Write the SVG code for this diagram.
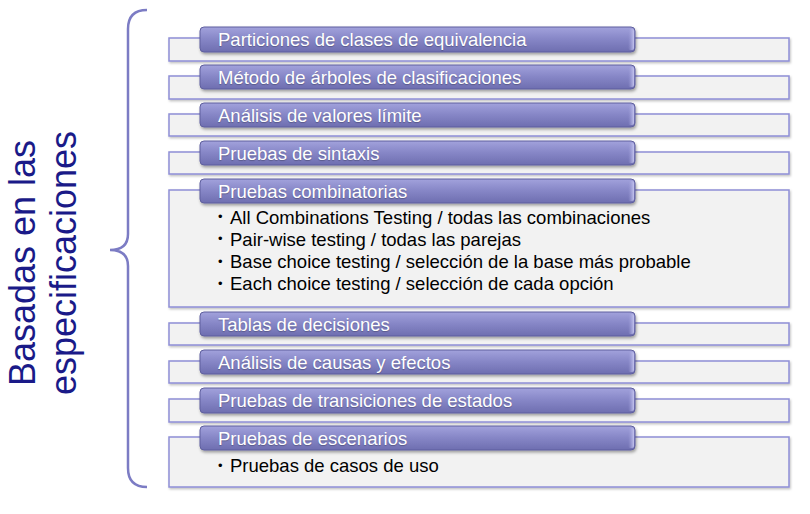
<svg xmlns="http://www.w3.org/2000/svg" width="810" height="514" viewBox="0 0 810 514">
<defs>
<linearGradient id="barG" x1="0" y1="0" x2="0" y2="1">
<stop offset="0" stop-color="#a2a2dc"/>
<stop offset="0.45" stop-color="#8888c8"/>
<stop offset="1" stop-color="#6e6eb0"/>
</linearGradient>
<linearGradient id="capG" x1="0" y1="0" x2="1" y2="0">
<stop offset="0" stop-color="#9c9cd8" stop-opacity="0"/>
<stop offset="1" stop-color="#c4c4ee"/>
</linearGradient>
<filter id="sh" x="-5%" y="-30%" width="110%" height="170%">
<feDropShadow dx="1" dy="2" stdDeviation="1.5" flood-color="#000" flood-opacity="0.35"/>
</filter>
<filter id="sh2" x="-5%" y="-10%" width="110%" height="130%">
<feDropShadow dx="1" dy="1.5" stdDeviation="1.2" flood-color="#000" flood-opacity="0.25"/>
</filter>
</defs>
<style>
.bg{fill:#f2f2f2;stroke:#8e8ed6;stroke-width:1.5;filter:url(#sh2)}
.bar{fill:url(#barG);stroke:#5f5f9e;stroke-width:1;filter:url(#sh)}
.cap{fill:url(#capG)}
.h{font-family:"Liberation Sans",Arial,sans-serif;font-size:18.5px;fill:#ffffff;text-shadow:0 1px 1px rgba(0,0,0,0.25)}
.b{font-family:"Liberation Sans",Arial,sans-serif;font-size:18.5px;fill:#000000}
.d{font-family:"Liberation Sans",Arial,sans-serif;font-size:13px;fill:#000000}
.t{font-family:"Liberation Sans",Arial,sans-serif;font-size:36px;fill:#1a1a88}
</style>
<rect width="810" height="514" fill="#ffffff"/>
<g id="connectors">
<path d="M147,10 Q128,10 128,29 L128,234 Q128,250 110,250 Q128,250 128,266 L128,468 Q128,487 147,487" fill="none" stroke="#7c7cc4" stroke-width="2.5"/>
</g>
<g id="label">
<text class="t" transform="translate(35,263) rotate(-90)" text-anchor="middle">Basadas en las</text>
<text class="t" transform="translate(76,263) rotate(-90)" text-anchor="middle">especificaciones</text>
</g>
<g id="n1">
<rect class="bg" x="169" y="38" width="620" height="23"/>
<rect class="bar" x="200" y="27" width="435" height="25" rx="4"/>
<rect class="cap" x="628" y="29" width="6" height="21" rx="2"/>
<text class="h" x="218" y="46">Particiones de clases de equivalencia</text>
</g>
<g id="n2">
<rect class="bg" x="169" y="76" width="620" height="23"/>
<rect class="bar" x="200" y="65" width="435" height="24" rx="4"/>
<rect class="cap" x="628" y="67" width="6" height="20" rx="2"/>
<text class="h" x="218" y="84">Método de árboles de clasificaciones</text>
</g>
<g id="n3">
<rect class="bg" x="169" y="114" width="620" height="22"/>
<rect class="bar" x="200" y="103" width="435" height="24" rx="4"/>
<rect class="cap" x="628" y="105" width="6" height="20" rx="2"/>
<text class="h" x="218" y="122">Análisis de valores límite</text>
</g>
<g id="n4">
<rect class="bg" x="169" y="152" width="620" height="22"/>
<rect class="bar" x="200" y="141" width="435" height="24" rx="4"/>
<rect class="cap" x="628" y="143" width="6" height="20" rx="2"/>
<text class="h" x="218" y="160">Pruebas de sintaxis</text>
</g>
<g id="n5">
<rect class="bg" x="169" y="190" width="620" height="117"/>
<rect class="bar" x="200" y="179" width="435" height="24" rx="4"/>
<rect class="cap" x="628" y="181" width="6" height="20" rx="2"/>
<text class="h" x="218" y="198">Pruebas combinatorias</text>
<text class="d" x="218" y="221">•</text>
<text class="b" x="230" y="223.5">All Combinations Testing / todas las combinaciones</text>
<text class="d" x="218" y="243.3">•</text>
<text class="b" x="230" y="245.8">Pair-wise testing / todas las parejas</text>
<text class="d" x="218" y="265.6">•</text>
<text class="b" x="230" y="268.1">Base choice testing / selección de la base más probable</text>
<text class="d" x="218" y="287.9">•</text>
<text class="b" x="230" y="290.4">Each choice testing / selección de cada opción</text>
</g>
<g id="n6">
<rect class="bg" x="169" y="323" width="620" height="22"/>
<rect class="bar" x="200" y="312" width="435" height="24" rx="4"/>
<rect class="cap" x="628" y="314" width="6" height="20" rx="2"/>
<text class="h" x="218" y="331">Tablas de decisiones</text>
</g>
<g id="n7">
<rect class="bg" x="169" y="361" width="620" height="22"/>
<rect class="bar" x="200" y="350" width="435" height="24" rx="4"/>
<rect class="cap" x="628" y="352" width="6" height="20" rx="2"/>
<text class="h" x="218" y="369">Análisis de causas y efectos</text>
</g>
<g id="n8">
<rect class="bg" x="169" y="399" width="620" height="23"/>
<rect class="bar" x="200" y="388" width="435" height="25" rx="4"/>
<rect class="cap" x="628" y="390" width="6" height="21" rx="2"/>
<text class="h" x="218" y="407">Pruebas de transiciones de estados</text>
</g>
<g id="n9">
<rect class="bg" x="169" y="437" width="620" height="50"/>
<rect class="bar" x="200" y="426" width="435" height="24" rx="4"/>
<rect class="cap" x="628" y="428" width="6" height="20" rx="2"/>
<text class="h" x="218" y="445">Pruebas de escenarios</text>
<text class="d" x="218" y="469.5">•</text>
<text class="b" x="230" y="472">Pruebas de casos de uso</text>
</g>
</svg>
